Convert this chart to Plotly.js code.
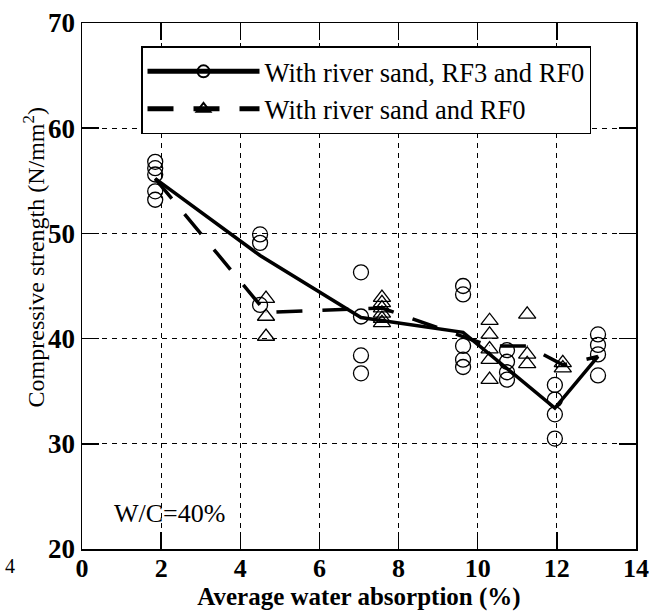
<!DOCTYPE html>
<html><head><meta charset="utf-8">
<script src="https://cdn.plot.ly/plotly-3.0.1.min.js"></script>
<style>html,body{margin:0;padding:0;background:#fff;}#chart{width:665px;height:611px;}</style>
</head><body><div id="chart"></div>
<script>
// Individual specimens: river sand, RF3 and RF0 (circles)
const circleX = [1.85,1.85,1.85,1.85,1.85, 4.5,4.5,4.5, 7.05,7.05,7.05,7.05, 9.63,9.63,9.63,9.63,9.63, 10.74,10.74,10.74,10.74, 11.95,11.95,11.95,11.95, 13.04,13.04,13.04,13.04];
const circleY = [56.8,56.2,55.6,54.0,53.2, 49.9,49.1,43.2, 46.3,42.1,38.4,36.7, 45.0,44.2,39.3,38.0,37.3, 38.9,37.8,36.8,36.1, 35.6,34.2,32.8,30.5, 40.4,39.4,38.5,36.5];
// Individual specimens: river sand and RF0 (triangles)
const triX = [4.65,4.65,4.65, 7.58,7.58,7.58,7.58,7.58,7.58, 10.3,10.3,10.3,10.3,10.3, 11.25,11.25,11.25, 12.15,12.15];
const triY = [43.8,42.1,40.2, 43.9,43.4,42.9,42.4,41.9,41.5, 41.7,40.4,39.0,38.0,36.1, 42.3,38.5,37.6, 37.7,37.2];
// Mean lines
const meanAllX = [1.85, 4.5, 7.05, 9.63, 11.95, 13.04];
const meanAllY = [55.2, 47.9, 42.0, 40.6, 33.4, 38.3];
const meanRF0X = [1.85, 4.65, 7.58, 10.3, 11.25, 12.15, 13.04];
const meanRF0Y = [55.2, 42.5, 42.9, 39.3, 39.3, 37.5, 38.3];
const seriesNames = ['With river sand, RF3 and RF0', 'With river sand and RF0'];
const xTickVals = [0,2,4,6,8,10,12,14];
const yTickVals = [20,30,40,50,60,70];

const FONT = 'Liberation Serif, Times New Roman, serif';

const traces = [
  {x: circleX, y: circleY, mode: 'markers', type: 'scatter', showlegend: false,
   marker: {symbol: 'circle-open', size: 15, color: '#000', line: {width: 1.3, color: '#000'}}},
  {x: triX, y: triY, mode: 'markers', type: 'scatter', showlegend: false,
   marker: {symbol: 'triangle-up-open', size: 15, color: '#000', line: {width: 1.3, color: '#000'}}},
  {x: meanAllX, y: meanAllY, mode: 'lines+markers', type: 'scatter', name: seriesNames[0],
   line: {color: '#000', width: 3.5},
   marker: {symbol: 'circle-open', size: 0.01, color: '#000', line: {width: 1.3, color: '#000'}}},
  {x: meanRF0X, y: meanRF0Y, mode: 'lines+markers', type: 'scatter', name: seriesNames[1],
   line: {color: '#000', width: 3.5, dash: '26px,20px'},
   marker: {symbol: 'triangle-up-open', size: 0.01, color: '#000', line: {width: 1.3, color: '#000'}}}
];

const axisCommon = {
  showline: true, linecolor: '#000', linewidth: 1.5, mirror: 'ticks',
  ticks: 'inside', ticklen: 17, tickwidth: 1.5, tickcolor: '#000',
  showgrid: true, gridcolor: '#000', gridwidth: 1, griddash: '5px,5px',
  zeroline: false
};

const layout = {
  width: 665, height: 611,
  margin: {l: 82, r: 29, t: 23, b: 62},
  paper_bgcolor: '#fff', plot_bgcolor: '#fff',
  font: {family: FONT, color: '#000'},
  xaxis: Object.assign({}, axisCommon, {
    range: [0, 14], tickvals: xTickVals, ticktext: xTickVals.map(String),
    tickfont: {family: FONT, size: 26, color: '#000', weight: 'bold'},
    ticklabelstandoff: -5,
    title: {text: 'Average water absorption (%)', font: {family: FONT, size: 25, color: '#000', weight: 'bold'}, standoff: 12}
  }),
  yaxis: Object.assign({}, axisCommon, {
    range: [20, 70], tickvals: yTickVals, ticktext: yTickVals.map(String),
    tickfont: {family: FONT, size: 27, color: '#000', weight: 'bold'}
  }),
  legend: {
    x: 0.1065, y: 0.956, xanchor: 'left', yanchor: 'top',
    bgcolor: '#fff', bordercolor: '#000', borderwidth: 1.5,
    font: {family: FONT, size: 26.5, color: '#000'},
    itemsizing: 'constant', itemwidth: 112
  },
  annotations: [
    {xref: 'paper', yref: 'paper', x: -0.086, y: 0.555, xanchor: 'center', yanchor: 'middle', showarrow: false,
     textangle: -90, text: 'Compressive strength (N/mm<sup>2</sup>)', font: {family: FONT, size: 24, color: '#000'}},
    {xref: 'x', yref: 'y', x: 0.76, y: 23.4, xanchor: 'left', yanchor: 'middle', showarrow: false,
     text: 'W/C=40%', font: {family: FONT, size: 26, color: '#000'}},
    {xref: 'paper', yref: 'paper', x: -0.13, y: -0.032, xanchor: 'center', yanchor: 'middle', showarrow: false,
     text: '4', font: {family: FONT, size: 20, color: '#000'}}
  ]
};

Plotly.newPlot('chart', traces, layout, {displayModeBar: false, staticPlot: true});
</script>
</body></html>
